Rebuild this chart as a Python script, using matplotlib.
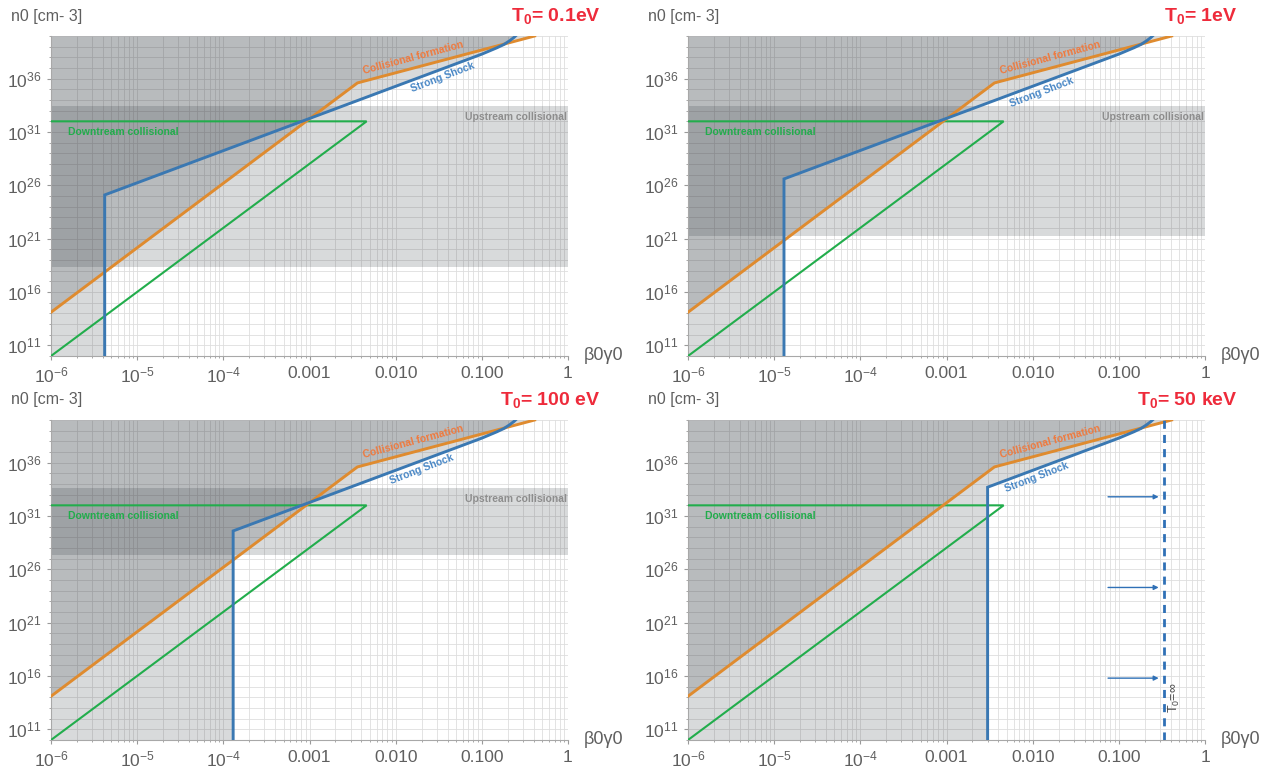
import numpy as np
import matplotlib
matplotlib.use("Agg")
import matplotlib.pyplot as plt
from matplotlib.ticker import FixedLocator, LogLocator, NullFormatter

plt.rcParams["font.family"] = ["Liberation Sans", "DejaVu Sans"]
plt.rcParams["mathtext.fontset"] = "custom"
plt.rcParams["mathtext.rm"] = "Liberation Sans"
plt.rcParams["mathtext.it"] = "Liberation Sans:italic"
plt.rcParams["mathtext.bf"] = "Liberation Sans:bold"

# one panel per upstream temperature
temps = ["0.1eV", "1eV", "100 eV", "50 keV"]

# collisional formation (same in every panel)
cf_beta = [1e-6, 3.6e-3, 0.41]
cf_n = [10**14.1, 10**35.6, 1e40]

# downstream collisional triangle
down_beta = [1e-6, 4.6e-3, 1e-6]
down_n = [1e32, 1e32, 1e10]

# strong shock: vertical cut-off per panel, then the common upper branch
shock_beta0 = [4.2e-6, 1.3e-5, 1.3e-4, 3.0e-3]
shock_n0 = [10**25.1, 10**26.6, 10**29.6, 10**33.7]
shock_up_beta = [0.1, 0.15, 0.18, 0.21, 0.235, 0.25]
shock_up_n = [10**38.3, 10**38.9, 10**39.2, 10**39.55, 10**39.85, 10**40.05]

# upstream collisional band, log10(n0); None = not in range
up_lo = [18.3, 21.25, 27.3, None]
up_hi = [33.4, 33.4, 33.6, None]

# T0 -> infinity limit (last panel)
inf_beta = 0.33
arrow_n = [10**32.8, 10**24.3, 10**15.8]
arrow_from = 0.075
arrow_to = 0.29

xtick_vals = [1e-6, 1e-5, 1e-4, 1e-3, 1e-2, 1e-1, 1]
xtick_labels = [r"$10^{-6}$", r"$10^{-5}$", r"$10^{-4}$", "0.001", "0.010", "0.100", "1"]
ytick_exp = [11, 16, 21, 26, 31, 36]

# label x positions for "Strong Shock" in each panel
shock_label_lb = [-1.45, -1.9, -1.7, -1.95]

ORANGE = "#df8b2f"
BLUE = "#3a78b2"
GREEN = "#22ad4c"
RED = "#ee2b3b"
GRAY_TXT = "#5f5f5f"
shade = dict(color="#2c3238", alpha=0.18, lw=0, zorder=1)

W, H = 1266, 770
fig = plt.figure(figsize=(W / 100, H / 100), dpi=100)

corners = [(51, 36), (688, 36), (51, 420), (688, 420)]
pw, ph = 517, 320

for i, (lx, ty) in enumerate(corners):
    ax = fig.add_axes([lx / W, 1 - (ty + ph) / H, pw / W, ph / H])
    ax.set_xscale("log")
    ax.set_yscale("log")
    ax.set_xlim(1e-6, 1)
    ax.set_ylim(1e10, 1e40)

    ax.set_xticks(xtick_vals)
    ax.set_xticklabels(xtick_labels)
    ax.xaxis.set_minor_locator(LogLocator(base=10, subs=np.arange(2, 10), numticks=20))
    ax.xaxis.set_minor_formatter(NullFormatter())
    ax.set_yticks([10.0**e for e in ytick_exp])
    ax.set_yticklabels([rf"$10^{{{e}}}$" for e in ytick_exp])
    ax.yaxis.set_minor_locator(FixedLocator([10.0**e for e in range(10, 41)]))
    ax.yaxis.set_minor_formatter(NullFormatter())
    ax.tick_params(which="both", colors="#9a9a9a", labelcolor=GRAY_TXT, labelsize=12.5)
    ax.tick_params(which="major", length=3, pad=4)
    ax.tick_params(which="minor", length=1.5)
    ax.grid(which="both", color="#dedede", lw=0.6)
    ax.set_axisbelow(True)
    for s in ["top", "right"]:
        ax.spines[s].set_visible(False)
    for s in ["left", "bottom"]:
        ax.spines[s].set_color("#a8a8a8")
        ax.spines[s].set_linewidth(0.8)

    # shaded regions
    if up_lo[i] is not None:
        ax.axhspan(10**up_lo[i], 10**up_hi[i], **shade)
        ax.text(0.98, 10**(up_hi[i] - 1.0), "Upstream collisional", ha="right", va="center",
                fontsize=7.5, fontweight="bold", color="#8d8d8d", zorder=5)
    ax.fill_between(cf_beta, cf_n, 1e40, **shade)
    sx = [1e-6, shock_beta0[i], shock_beta0[i]] + shock_up_beta + [1e-6]
    sy = [1e10, 1e10, shock_n0[i]] + shock_up_n + [1e40]
    ax.fill(sx, sy, **shade)

    # curves
    ax.plot(down_beta, down_n, color=GREEN, lw=1.5, zorder=3, solid_joinstyle="miter")
    ax.plot(cf_beta, cf_n, color=ORANGE, lw=2.1, zorder=4)
    ax.plot([shock_beta0[i], shock_beta0[i]] + shock_up_beta, [1e10, shock_n0[i]] + shock_up_n,
            color=BLUE, lw=2.1, zorder=4, solid_joinstyle="miter")

    # curve labels
    ax.text(10**-5.8, 10**31.0, "Downtream collisional", ha="left", va="center",
            fontsize=7.5, fontweight="bold", color=GREEN, zorder=5)
    ax.text(10**-1.8, 10**37.95, "Collisional formation", ha="center", va="center",
            fontsize=7.5, fontweight="bold", color="#ef7a3e", rotation=15, zorder=5)
    lb = shock_label_lb[i]
    ax.text(10**lb, 10**(32.06 + 3 * (lb + 3.06) - 0.8), "Strong Shock", ha="center", va="center",
            fontsize=7.5, fontweight="bold", color="#4a88c6", rotation=21, zorder=5)

    if i == 3:
        ax.axvline(inf_beta, color="#2f70b6", lw=2.0, linestyle=(0, (2.9, 2.2)), zorder=4)
        for yn in arrow_n:
            ax.annotate("", xy=(arrow_to, yn), xytext=(arrow_from, yn),
                        arrowprops=dict(arrowstyle="-|>", color="#2f70b6", lw=1.0,
                                        mutation_scale=7, shrinkA=0, shrinkB=0), zorder=5)
        ax.text(0.44, 10**14.0, r"T$_0$=$\infty$", rotation=90, ha="center", va="center",
                fontsize=9, color="#444444", zorder=5)

    # axis labels and titles
    ax.text(1.03, 0.0, "β0γ0", transform=ax.transAxes, ha="left", va="center",
            fontsize=13, color=GRAY_TXT)
    fig.text((lx - 40) / W, 1 - (ty - 20) / H, "n0 [cm- 3]", ha="left", va="center",
             fontsize=11.5, color=GRAY_TXT)
    fig.text((lx + pw + 33) / W, 1 - (ty - 20) / H, r"T$_\mathbf{0}$= " + temps[i], ha="right",
             va="center", fontsize=14, fontweight="bold", color=RED)

fig.savefig("out.png", dpi=100)
